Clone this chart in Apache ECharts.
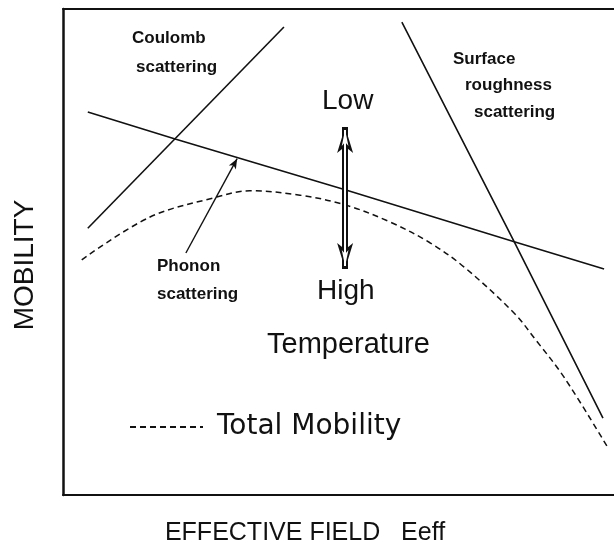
<!DOCTYPE html>
<html>
<head>
<meta charset="utf-8">
<script src="https://cdn.jsdelivr.net/npm/echarts@6/dist/echarts.min.js"></script>
<style>
  html, body { margin: 0; padding: 0; background: #fff; }
  #chart { width: 614px; height: 549px; }
</style>
</head>
<body>
<div id="chart"></div>
<script>
// data (x = effective field, y = mobility, arbitrary units 0..100)
const coulombLine = [[4.5, 54.9], [40.1, 96.3]];
const phononLine = [[4.5, 78.8], [20.5, 73.2], [51.2, 62.8], [81.9, 52.1], [98.2, 46.5]];
const surfaceLine = [[61.5, 97.3], [81.9, 52.1], [98.0, 15.8]];
const totalMobility = [
  [3.4, 48.4], [15.8, 57.2], [27.9, 61.3], [33.9, 62.6], [43.0, 61.7],
  [51.2, 59.7], [59.3, 56.2], [66.6, 51.9], [72.8, 46.9], [81.9, 37.4],
  [85.8, 31.9], [90.9, 24.3], [98.7, 10.1]
];
const phononPointer = [[22.3, 49.8], [31.6, 69.2]];
const tempArrowX = 51.2;
const tempArrowY = [46.5, 75.7];

const ink = '#111';
const font = "'Liberation Sans', Arial, sans-serif";

const chart = echarts.init(document.getElementById('chart'), null, { renderer: 'canvas' });

function label(text, left, top, size, weight) {
  return {
    type: 'text',
    left: left,
    top: top,
    style: { text: text, fill: ink, font: (weight || 'normal') + ' ' + size + 'px ' + font }
  };
}

const option = {
  animation: false,
  backgroundColor: '#fff',
  grid: { left: 63, right: 0, top: 9, bottom: 54, outerBoundsMode: 'none', containLabel: false },
  legend: {
    show: true,
    data: ['Total Mobility'],
    orient: 'horizontal',
    left: 129,
    top: 413,
    padding: 0,
    itemWidth: 73,
    itemHeight: 14,
    itemStyle: { opacity: 0 },
    textStyle: { color: ink, fontSize: 28, fontFamily: "'DejaVu Sans', sans-serif", padding: [0, 0, 0, 9] }
  },
  xAxis: [{
    type: 'value',
    min: 0,
    max: 100,
    name: 'EFFECTIVE FIELD   Eeff',
    nameLocation: 'middle',
    nameGap: 26,
    nameTextStyle: { color: ink, fontSize: 25, fontFamily: font, padding: [0, 67, 0, 0] },
    axisLine: { show: true, lineStyle: { color: ink, width: 2 } },
    axisTick: { show: false },
    axisLabel: { show: false },
    splitLine: { show: false }
  }, {
    type: 'value',
    position: 'top',
    min: 0,
    max: 100,
    axisLine: { show: true, lineStyle: { color: ink, width: 2 } },
    axisTick: { show: false },
    axisLabel: { show: false },
    splitLine: { show: false }
  }],
  yAxis: {
    type: 'value',
    min: 0,
    max: 100,
    name: 'MOBILITY',
    nameLocation: 'middle',
    nameGap: 24,
    nameTextStyle: { color: ink, fontSize: 28, fontFamily: font, padding: [0, 26, 0, 0] },
    axisLine: { show: true, lineStyle: { color: ink, width: 2.5 } },
    axisTick: { show: false },
    axisLabel: { show: false },
    splitLine: { show: false }
  },
  series: [
    {
      name: 'Coulomb scattering',
      type: 'line',
      data: coulombLine,
      symbol: 'none',
      lineStyle: { color: ink, width: 1.6 }
    },
    {
      name: 'Phonon scattering',
      type: 'line',
      data: phononLine,
      symbol: 'none',
      lineStyle: { color: ink, width: 1.6 },
      markLine: {
        silent: true,
        label: { show: false },
        lineStyle: { color: ink, width: 1.4, type: 'solid' },
        data: [[
          { coord: phononPointer[0], symbol: 'none' },
          { coord: phononPointer[1], symbol: 'arrow', symbolSize: [6, 10] }
        ]]
      }
    },
    {
      name: 'Surface roughness scattering',
      type: 'line',
      data: surfaceLine,
      symbol: 'none',
      lineStyle: { color: ink, width: 1.6 }
    },
    {
      name: 'Total Mobility',
      type: 'line',
      data: totalMobility,
      smooth: 0.35,
      symbol: 'none',
      itemStyle: { color: ink },
      lineStyle: { color: ink, width: 1.5, type: [6, 4] },
      z: 3
    },
    {
      // temperature double arrow (outer black, inner white = hollow look)
      name: 'temperature',
      type: 'line',
      data: [],
      markLine: {
        silent: true,
        label: { show: false },
        data: [
          [
            { coord: [tempArrowX, tempArrowY[0]], symbol: 'arrow', symbolSize: [12, 26], lineStyle: { color: ink, width: 6, type: 'solid' } },
            { coord: [tempArrowX, tempArrowY[1]], symbol: 'arrow', symbolSize: [12, 26] }
          ],
          [
            { coord: [tempArrowX, tempArrowY[0] + 0.6], symbol: 'arrow', symbolSize: [5, 16], itemStyle: { color: '#fff' }, lineStyle: { color: '#fff', width: 2, type: 'solid' } },
            { coord: [tempArrowX, tempArrowY[1] - 0.6], symbol: 'arrow', symbolSize: [5, 16], itemStyle: { color: '#fff' } }
          ]
        ]
      },
      z: 5
    }
  ],
  graphic: [
    label('Coulomb', 132, 30, 17, 'bold'),
    label('scattering', 136, 59, 17, 'bold'),
    label('Surface', 453, 51, 17, 'bold'),
    label('roughness', 465, 77, 17, 'bold'),
    label('scattering', 474, 104, 17, 'bold'),
    label('Phonon', 157, 258, 17, 'bold'),
    label('scattering', 157, 286, 17, 'bold'),
    label('Low', 322, 87, 28),
    label('High', 317, 277, 28),
    label('Temperature', 267, 330, 29)
  ]
};

chart.setOption(option);
</script>
</body>
</html>
